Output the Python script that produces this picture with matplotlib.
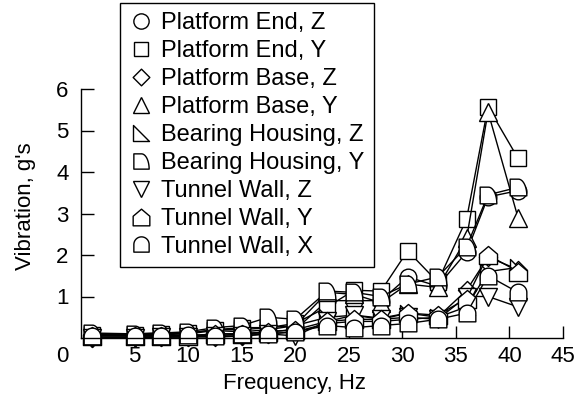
import numpy as np
import matplotlib
matplotlib.use("Agg")
import matplotlib.pyplot as plt
from matplotlib.path import Path
from matplotlib.lines import Line2D

plt.rcParams['font.family'] = ['Liberation Sans', 'DejaVu Sans']

# frequencies (Hz)
freq = [1, 5, 7.5, 10, 12.5, 15, 17.5, 20, 23, 25.5, 28, 30.5, 33.3, 36, 38, 40.8]

# vibration levels (g's)
platform_end_z = [0.05, 0.05, 0.05, 0.05, 0.1, 0.1, 0.15, 0.2, 0.9, 0.9, 0.9, 1.47, 1.25, 2.07, 3.4, 3.55]
platform_end_y = [0.08, 0.08, 0.1, 0.12, 0.2, 0.25, 0.25, 0.35, 0.75, 1.15, 1.13, 2.1, 1.35, 2.87, 5.57, 4.33]
platform_base_z = [0.0, 0.02, 0.02, 0.03, 0.02, 0.05, 0.1, 0.15, 0.35, 0.4, 0.4, 0.45, 0.5, 1.15, 1.95, 1.65]
platform_base_y = [0.07, 0.07, 0.08, 0.1, 0.18, 0.15, 0.2, 0.3, 1.1, 1.05, 0.85, 1.3, 1.22, 2.4, 5.45, 2.9]
bearing_z = [0.1, 0.1, 0.12, 0.12, 0.2, 0.2, 0.25, 0.3, 0.5, 0.55, 0.48, 0.6, 0.5, 0.75, 1.6, 1.7]
bearing_y = [0.12, 0.1, 0.12, 0.15, 0.25, 0.3, 0.5, 0.45, 1.13, 1.1, 1.0, 1.3, 1.47, 2.2, 3.45, 3.63]
tunnel_z = [0.0, 0.0, 0.02, 0.02, 0.05, 0.05, 0.1, 0.05, 0.4, 0.55, 0.45, 0.5, 0.45, 1.0, 1.0, 0.75]
tunnel_y = [0.05, 0.05, 0.05, 0.05, 0.1, 0.1, 0.15, 0.2, 0.4, 0.45, 0.45, 0.6, 0.55, 0.95, 2.0, 1.6]
tunnel_x = [0.05, 0.05, 0.05, 0.08, 0.05, 0.1, 0.1, 0.15, 0.3, 0.25, 0.3, 0.35, 0.45, 0.6, 1.5, 1.1]

labels = ["Platform End, Z", "Platform End, Y", "Platform Base, Z", "Platform Base, Y",
          "Bearing Housing, Z", "Bearing Housing, Y", "Tunnel Wall, Z",
          "Tunnel Wall, Y", "Tunnel Wall, X"]

# custom marker shapes
diamond = Path([(0, 1), (1, 0), (0, -1), (-1, 0), (0, 1)], closed=True)
right_tri = Path([(-1, 1), (-1, -1), (1, -1), (-1, 1)], closed=True)
t = np.linspace(np.pi / 2, 0, 20)
d_verts = [(-1, -1), (-1, 1), (0, 1)] + list(zip(np.cos(t), -1 + 2 * np.sin(t))) + [(-1, -1)]
d_shape = Path(d_verts, closed=True)
house = Path([(-1, -1), (-1, 0.15), (0, 1), (1, 0.15), (1, -1), (-1, -1)], closed=True)
a = np.linspace(np.pi, 0, 30)
arch_verts = [(-1, -1), (-1, 0)] + list(zip(np.cos(a), np.sin(a))) + [(1, -1), (-1, -1)]
arch = Path(arch_verts, closed=True)

markers = ['o', 's', diamond, '^', right_tri, d_shape, 'v', house, arch]
msizes = [12, 11, 13, 13, 12, 12, 13, 13, 12]
series = [platform_end_z, platform_end_y, platform_base_z, platform_base_y,
          bearing_z, bearing_y, tunnel_z, tunnel_y, tunnel_x]

fig = plt.figure(figsize=(5.87, 4.04), dpi=100)
ax = fig.add_axes([81 / 587, 1 - 338 / 404, 482 / 587, 249 / 404])

for ys, m, ms in zip(series, markers, msizes):
    ax.plot(freq, ys, color='black', lw=1.0, marker=m, ms=ms,
            mfc='white', mec='black', mew=1.0, clip_on=False)

ax.set_xlim(0, 45)
ax.set_ylim(0, 6)
ax.set_xticks([5, 10, 15, 20, 25, 30, 35, 40, 45])
ax.set_yticks([1, 2, 3, 4, 5, 6])
ax.tick_params(direction='in', length=9, width=1, labelsize=16)
ax.tick_params(axis='x', pad=6)
ax.tick_params(axis='y', pad=9)
for s in ['top', 'right']:
    ax.spines[s].set_visible(False)
for s in ['left', 'bottom']:
    ax.spines[s].set_linewidth(1)

fig.text(62 / 587, 1 - 357 / 404, "0", fontsize=16, ha='center', va='center')
fig.text(295 / 587, 1 - 384 / 404, "Frequency, Hz", fontsize=16, ha='center', va='center')
fig.text(25 / 587, 1 - 206 / 404, "Vibration, g's", fontsize=16, ha='center', va='center',
         rotation=90)

handles = [Line2D([], [], ls='none', marker=m, ms=ms - 1, mfc='white', mec='black', mew=1.0)
           for m, ms in zip(markers, msizes)]
leg = fig.legend(handles, labels, loc='upper left', bbox_to_anchor=(120 / 587, 1 - 3 / 404),
                 fontsize=17, frameon=True, fancybox=False, framealpha=1,
                 edgecolor='black', labelspacing=0.25, handlelength=1.0,
                 handletextpad=0.35, borderpad=0.4, borderaxespad=0)
leg.get_frame().set_linewidth(1.0)

fig.savefig("out.png", dpi=100)
